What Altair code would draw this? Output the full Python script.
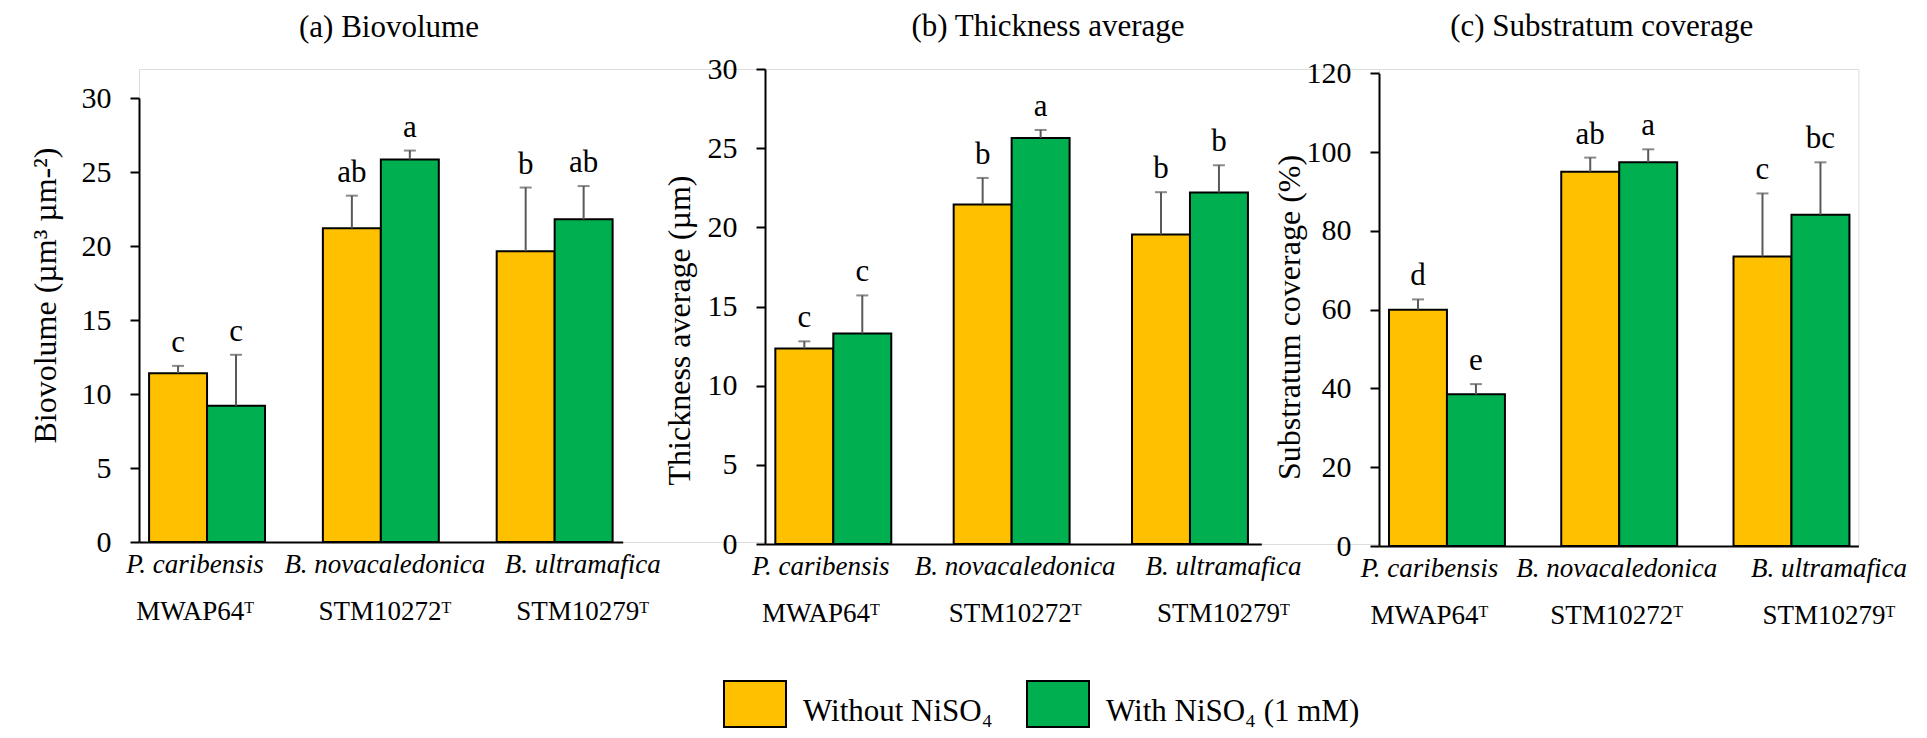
import altair as alt
import pandas as pd

FONT = "Liberation Serif"

species = ["P. caribensis", "B. novacaledonica", "B. ultramafica"]
strains = ["MWAP64", "STM10272", "STM10279"]
treatments = ["Without NiSO₄", "With NiSO₄ (1 mM)"]
colors = ["#FFC000", "#00B050"]

# values ordered species x treatment (without, with)
biovolume_mean = [11.4, 9.2, 21.2, 25.85, 19.65, 21.8]
biovolume_err = [0.5, 3.45, 2.2, 0.6, 4.3, 2.25]
biovolume_letters = ["c", "c", "ab", "a", "b", "ab"]

thickness_mean = [12.35, 13.3, 21.45, 25.65, 19.55, 22.2]
thickness_err = [0.45, 2.4, 1.67, 0.5, 2.67, 1.72]
thickness_letters = ["c", "c", "b", "a", "b", "b"]

coverage_mean = [60.0, 38.5, 95.0, 97.4, 73.5, 84.1]
coverage_err = [2.6, 2.6, 3.6, 3.3, 16.0, 13.3]
coverage_letters = ["d", "e", "ab", "a", "c", "bc"]


def frame(means, errs, letters):
    rows = []
    i = 0
    for s, st in zip(species, strains):
        for t in treatments:
            rows.append(dict(species=s, strain=st, treatment=t,
                             mean=means[i], err=errs[i], letter=letters[i]))
            i += 1
    return pd.DataFrame(rows)


strain_expr = " : ".join(
    f"datum.value == '{s}' ? '{st}ᵀ'" for s, st in zip(species, strains)
) + " : ''"


def offset_cond(offs):
    return {
        "condition": [
            {"test": f"datum.value == '{s}'", "value": o}
            for s, o in zip(species[:-1], offs[:-1])
        ],
        "value": offs[-1],
    }


LEGEND_PATH = "M-1,-1L1,-1L1,0.48L-1,0.48Z"
legend = alt.Legend(
    orient="none", legendX=584, legendY=611, direction="horizontal",
    title=None, symbolType=LEGEND_PATH, symbolSize=3844,
    symbolStrokeColor="black", symbolStrokeWidth=2, symbolOpacity=1,
    labelFontSize=31, labelFont=FONT, labelColor="black", labelOffset=16,
    columnPadding=30, padding=0, labelLimit=0, labelBaseline="middle",
)


def panel(df, title, ytitle, ymax, ystep, width, xrange_w, height, yrange,
          title_dx, title_dy, ytitle_x, ytitle_y, lab_offs):
    xscale = alt.Scale(domain=species, paddingInner=0.333, paddingOuter=0.058,
                       range=[0, xrange_w])
    xoff = alt.XOffset("treatment:N", sort=treatments,
                       scale=alt.Scale(domain=treatments, paddingInner=0, paddingOuter=0))
    yscale = alt.Scale(domain=[0, ymax], range=yrange, nice=False, zero=True)
    yaxis = alt.Axis(
        title=ytitle, values=list(range(0, ymax + 1, ystep)), grid=False,
        tickSize=9, tickWidth=2, tickColor="black", domainColor="black",
        domainWidth=2, labelFontSize=30, labelPadding=19, labelColor="black",
        labelFont=FONT, titleFont=FONT, titleFontSize=32, titleFontWeight="normal",
        titleColor="black", titleX=ytitle_x, titleY=ytitle_y, titleAngle=270,
        titleBaseline="alphabetic", titleAlign="center",
    )
    xaxis_species = alt.Axis(
        title=None, orient="bottom", ticks=False, tickSize=0, domain=True,
        domainColor="black", domainWidth=2, labelAngle=0, labelFontStyle="italic",
        labelFontSize=27, labelPadding=9, labelOffset=offset_cond(lab_offs),
        labelColor="black", labelFont=FONT, labelLimit=0, grid=False,
    )
    xaxis_strain = alt.Axis(
        title=None, orient="bottom", ticks=False, tickSize=0, domain=False,
        labelAngle=0, labelExpr=strain_expr, labelFontSize=27, labelPadding=56,
        labelOffset=offset_cond(lab_offs), labelColor="black", labelFont=FONT,
        labelLimit=0, grid=False,
    )
    base = alt.Chart(df).transform_calculate(hi="datum.mean + datum.err")
    bars = base.mark_bar(stroke="black", strokeWidth=2).encode(
        x=alt.X("species:N", sort=species, scale=xscale, axis=xaxis_species),
        xOffset=xoff,
        y=alt.Y("mean:Q", scale=yscale, axis=yaxis),
        color=alt.Color("treatment:N", sort=treatments,
                        scale=alt.Scale(domain=treatments, range=colors), legend=legend),
    )
    stems = base.mark_rule(color="#595959", strokeWidth=2).encode(
        x=alt.X("species:N", sort=species, axis=None),
        xOffset=xoff,
        y=alt.Y("mean:Q", axis=yaxis),
        y2="hi:Q",
    )
    caps = base.mark_tick(color="#595959", size=12, thickness=2).encode(
        x=alt.X("species:N", sort=species, axis=None),
        xOffset=xoff,
        y=alt.Y("hi:Q", axis=yaxis),
    )
    letters = base.mark_text(fontSize=31, font=FONT, color="black", dy=-14,
                             baseline="alphabetic").encode(
        x=alt.X("species:N", sort=species, axis=xaxis_strain),
        xOffset=xoff,
        y=alt.Y("hi:Q", axis=yaxis),
        text="letter:N",
    )
    return alt.layer(bars, stems, caps, letters).resolve_axis(x="independent").properties(
        width=width, height=height,
        title=alt.Title(title, fontSize=31, fontWeight="normal", font=FONT, color="black",
                        anchor="middle", dx=title_dx, dy=title_dy, offset=42,
                        baseline="alphabetic", frame="group"),
    )


pa = panel(frame(biovolume_mean, biovolume_err, biovolume_letters),
           "(a) Biovolume", "Biovolume (µm³ µm-²)", 30, 5,
           width=626, xrange_w=483.7, height=473, yrange=[473, 29],
           title_dx=-63, title_dy=41, ytitle_x=-84, ytitle_y=226,
           lab_offs=[-12, 4, 28])
pb = panel(frame(thickness_mean, thickness_err, thickness_letters),
           "(b) Thickness average", "Thickness average (µm)", 30, 5,
           width=614, xrange_w=496.3, height=475, yrange=[475, 0],
           title_dx=-24, title_dy=55, ytitle_x=-76, ytitle_y=261,
           lab_offs=[-14, 2, 32])
pc = panel(frame(coverage_mean, coverage_err, coverage_letters),
           "(c) Substratum coverage", "Substratum coverage (%)", 120, 20,
           width=479.4, xrange_w=479.4, height=477, yrange=[477, 4.3],
           title_dx=-17, title_dy=51, ytitle_x=-80, ytitle_y=248,
           lab_offs=[-17, -2, 38])

chart = alt.hconcat(pa, pb, pc, spacing=0, bounds="flush").properties(
    padding={"left": 20, "top": 2, "right": 5, "bottom": 5}
).configure_view(stroke=None).configure(font=FONT)

chart.save("out.html", embed_options={"renderer": "svg", "actions": False})
